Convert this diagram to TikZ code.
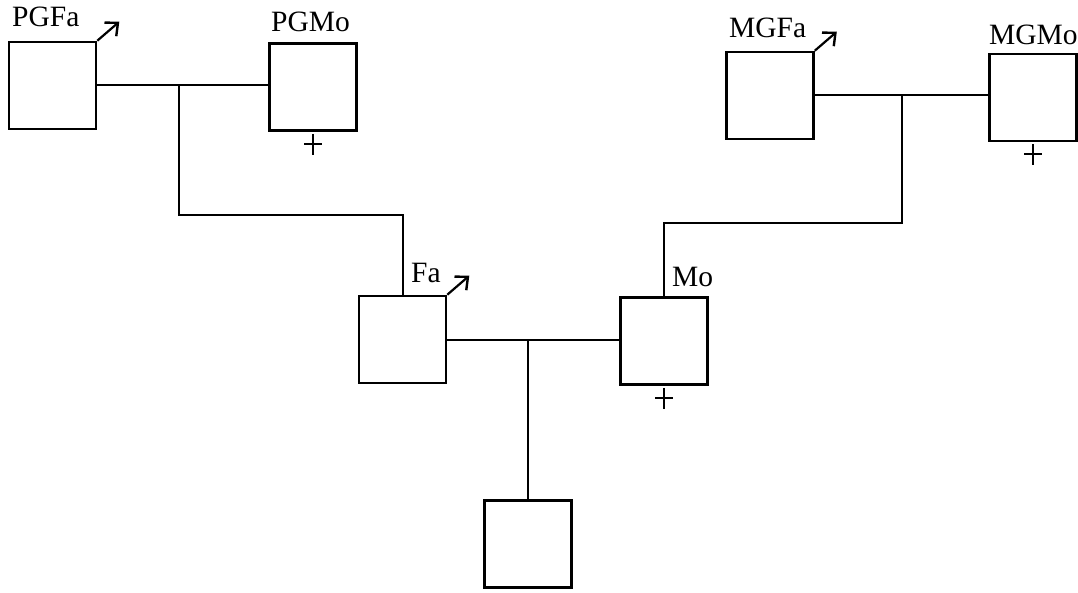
\documentclass[tikz,border=0pt]{standalone}
\usepackage{fontspec}
\setmainfont{Liberation Serif}
\usetikzlibrary{arrows.meta}
\begin{document}
\begin{tikzpicture}[x=1pt,y=-1pt,
  person/.style={draw, line width=2.6pt, minimum width=87pt, minimum height=87pt, inner sep=0pt},
  link/.style={line width=2pt},
  tag/.style={anchor=base west, inner sep=0pt, font=\fontsize{29.5}{30}\selectfont},
  marker/.style={line width=2.2pt, -{Straight Barb[length=10pt,width=18pt,line width=2.4pt]}},
  cross/.style={line width=1.8pt}]
\useasboundingbox (0,0) rectangle (1078,593);

% individuals
\node[person] (PGFa) at (52.5,85.5) {};
\node[person] (PGMo) at (313,87) {};
\node[person] (MGFa) at (770,95.5) {};
\node[person] (MGMo) at (1033,97.5) {};
\node[person] (Fa) at (402.5,339.5) {};
\node[person] (Mo) at (664,341) {};
\node[person] (Ch) at (528,544) {};

% names
\node[tag] (tPGFa) at (12,27) {PGFa};
\node[tag] (tPGMo) at (271,32) {PGMo};
\node[tag] (tMGFa) at (729,38) {MGFa};
\node[tag] (tMGMo) at (989,45) {MGMo};
\node[tag] (tFa) at (411,283) {Fa};
\node[tag] (tMo) at (672,287) {Mo};

% paternal side
\draw[link] (PGFa.east) -- (PGFa.east -| PGMo.west);
\coordinate (j1) at (179,85.5);
\coordinate (k1) at (179,215);
\draw[link] (j1) -- (k1) -| (Fa.north);

% maternal side
\draw[link] (MGFa.east) -- (MGFa.east -| MGMo.west);
\coordinate (j2) at (902,95.5);
\coordinate (k2) at (902,223);
\draw[link] (Mo.north) |- (k2) -- (j2);

% parents and child
\draw[link] (Fa.east) -- (Fa.east -| Mo.west);
\coordinate (j3) at (528,339.5);
\draw[link] (j3) -- (Ch.north);

% arrows at the upper right corners
\foreach \n in {PGFa,MGFa,Fa}
  \draw[marker] (\n.north east) -- ++(22,-19);

% crosses below the boxes
\foreach \n in {PGMo,MGMo,Mo}{
  \draw[cross] ([yshift=-2pt]\n.south) -- ++(0,21);
  \draw[cross] ([xshift=-9pt,yshift=-12pt]\n.south) -- ++(18,0);
}
\end{tikzpicture}
\end{document}
